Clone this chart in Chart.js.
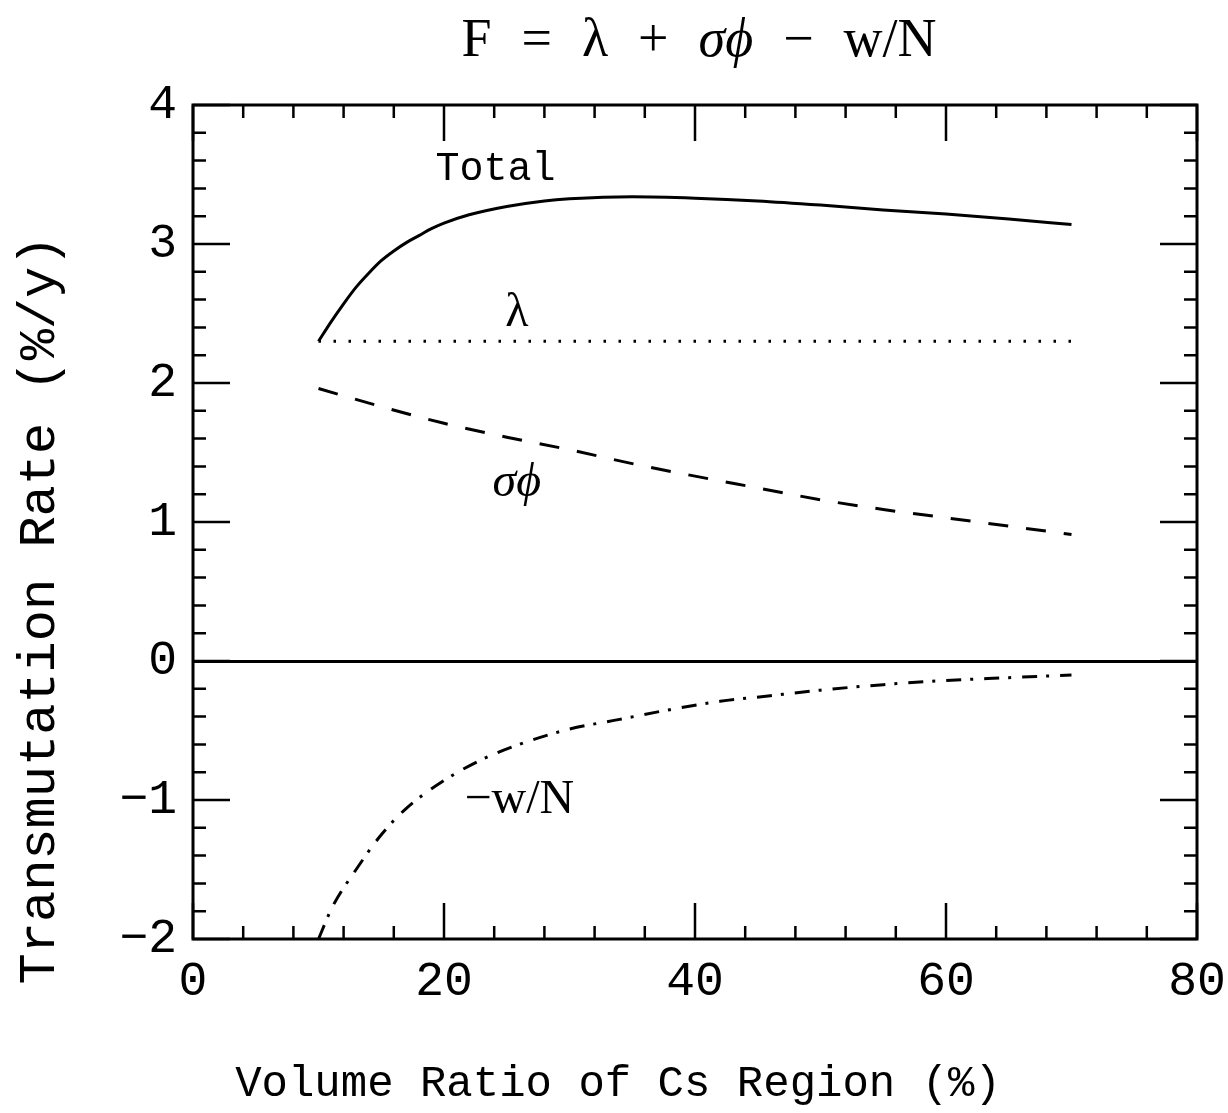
<!DOCTYPE html>
<html>
<head>
<meta charset="utf-8">
<script src="https://cdn.jsdelivr.net/npm/chart.js@4/dist/chart.umd.min.js"></script>
<style>
  html, body { margin: 0; padding: 0; background: #fff; }
  #wrap { width: 1228px; height: 1113px; }
</style>
</head>
<body>
<div id="wrap"><canvas id="c" width="1228" height="1113"></canvas></div>
<script>
// values
const totalX = [10, 11, 12, 13, 14, 15, 16, 17, 18, 19, 20, 22, 25, 28, 30, 35, 40, 45, 50, 55, 60, 65, 70];
const totalY = [2.30, 2.44, 2.57, 2.69, 2.79, 2.88, 2.95, 3.01, 3.06, 3.11, 3.15, 3.21, 3.27, 3.31, 3.325, 3.34, 3.33, 3.31, 3.28, 3.245, 3.215, 3.18, 3.14];

const lambdaX = [10, 70];
const lambdaY = [2.3, 2.3];

const sigphiX = [10, 15, 20, 25, 30, 35, 40, 45, 50, 55, 60, 65, 70];
const sigphiY = [1.96, 1.83, 1.71, 1.61, 1.52, 1.42, 1.33, 1.245, 1.16, 1.09, 1.03, 0.97, 0.91];

const wnX = [10, 11.1, 13, 15, 17, 20, 23, 26, 30, 34, 38, 42, 46, 50, 55, 60, 65, 70];
const wnY = [-2.0, -1.77, -1.50, -1.25, -1.06, -0.86, -0.71, -0.60, -0.49, -0.42, -0.35, -0.29, -0.25, -0.21, -0.17, -0.14, -0.12, -0.10];

const xTicks = [0, 20, 40, 60, 80];
const yTicks = [-2, -1, 0, 1, 2, 3, 4];

const pts = (xs, ys) => xs.map((x, i) => ({ x: x, y: ys[i] }));

const MONO = '"Liberation Mono", "DejaVu Sans Mono", monospace';
const SERIF = '"Liberation Serif", "DejaVu Serif", serif';

// frame, inward ticks on all four sides, titles and curve labels
const decor = {
  id: 'decor',
  afterDraw(chart) {
    const { ctx, chartArea: a, scales: { x, y } } = chart;
    ctx.save();
    ctx.strokeStyle = '#000';
    ctx.lineWidth = 3;
    ctx.strokeRect(a.left, a.top, a.right - a.left, a.bottom - a.top);

    ctx.lineWidth = 2.5;
    ctx.beginPath();
    for (let v = 0; v <= 80.001; v += 4) {
      const px = x.getPixelForValue(v);
      const len = Math.abs(v % 20) < 0.01 ? 36 : 13;
      ctx.moveTo(px, a.bottom); ctx.lineTo(px, a.bottom - len);
      ctx.moveTo(px, a.top); ctx.lineTo(px, a.top + len);
    }
    for (let i = 0; i <= 30; i++) {
      const v = -2 + i * 0.2;
      const py = y.getPixelForValue(v);
      const len = i % 5 === 0 ? 37 : 13;
      ctx.moveTo(a.left, py); ctx.lineTo(a.left + len, py);
      ctx.moveTo(a.right, py); ctx.lineTo(a.right - len, py);
    }
    ctx.stroke();

    ctx.fillStyle = '#000';
    ctx.textAlign = 'center';
    ctx.textBaseline = 'middle';

    // title, drawn token by token
    const tokens = [
      ['F', 'normal'], ['=', 'normal'], ['λ', 'normal'], ['+', 'normal'],
      ['σϕ', 'italic'], ['−', 'normal'], ['w/N', 'normal']
    ];
    const gap = 30;
    const widths = tokens.map(t => { ctx.font = t[1] + ' 54px ' + SERIF; return ctx.measureText(t[0]).width; });
    const total = widths.reduce((s, w) => s + w, 0) + gap * (tokens.length - 1);
    let cx = (a.left + a.right) / 2 + 4 - total / 2;
    ctx.textAlign = 'left';
    tokens.forEach((t, i) => {
      ctx.font = t[1] + ' 54px ' + SERIF;
      ctx.fillText(t[0], cx, 42);
      cx += widths[i] + gap;
    });
    ctx.textAlign = 'center';

    // axis titles
    ctx.font = '44px ' + MONO;
    ctx.fillText('Volume Ratio of Cs Region (%)', chart.width / 2 + 4, 1084);
    ctx.save();
    ctx.translate(40, 610);
    ctx.rotate(-Math.PI / 2);
    ctx.font = '52px ' + MONO;
    ctx.fillText('Transmutation Rate (%/y)', 0, 0);
    ctx.restore();

    // curve labels
    ctx.font = '40px ' + MONO;
    ctx.fillText('Total', x.getPixelForValue(24.1), y.getPixelForValue(3.54));
    ctx.font = '48px ' + SERIF;
    ctx.fillText('λ', x.getPixelForValue(25.8), y.getPixelForValue(2.5));
    ctx.font = 'italic 48px ' + SERIF;
    ctx.fillText('σϕ', x.getPixelForValue(25.8), y.getPixelForValue(1.28));
    ctx.font = '48px ' + SERIF;
    ctx.fillText('−w/N', x.getPixelForValue(26.0), y.getPixelForValue(-1.0));
    ctx.restore();
  }
};

new Chart(document.getElementById('c'), {
  type: 'scatter',
  data: {
    datasets: [
      { label: 'Total', data: pts(totalX, totalY), showLine: true, borderColor: '#000', borderWidth: 3,
        pointRadius: 0, cubicInterpolationMode: 'monotone' },
      { label: 'λ', data: pts(lambdaX, lambdaY), showLine: true, borderColor: '#000', borderWidth: 3,
        borderDash: [2.5, 12.5], pointRadius: 0 },
      { label: 'σϕ', data: pts(sigphiX, sigphiY), showLine: true, borderColor: '#000', borderWidth: 3,
        borderDash: [20, 18], pointRadius: 0, cubicInterpolationMode: 'monotone' },
      { label: '−w/N', data: pts(wnX, wnY), showLine: true, borderColor: '#000', borderWidth: 3,
        borderDash: [15, 9, 3, 11], pointRadius: 0, cubicInterpolationMode: 'monotone' }
    ]
  },
  options: {
    responsive: false,
    animation: false,
    layout: { padding: { top: 105, right: 31, left: 0, bottom: 0 } },
    plugins: { legend: { display: false }, tooltip: { enabled: false }, title: { display: false } },
    scales: {
      x: {
        type: 'linear', min: 0, max: 80,
        afterBuildTicks: s => { s.ticks = xTicks.map(v => ({ value: v })); },
        afterFit: s => { s.height = 174; s.paddingLeft = 0; s.paddingRight = 0; },
        border: { display: false },
        grid: { display: false, drawTicks: false },
        ticks: { color: '#000', font: { family: MONO, size: 48 }, padding: 14, maxRotation: 0, autoSkip: false }
      },
      y: {
        type: 'linear', min: -2, max: 4,
        afterBuildTicks: s => { s.ticks = yTicks.map(v => ({ value: v })); },
        afterFit: s => { s.width = 193; s.paddingTop = 0; s.paddingBottom = 0; },
        border: { display: false },
        grid: {
          drawTicks: false,
          lineWidth: 3,
          color: c => (c.tick && c.tick.value === 0 ? '#000' : 'rgba(0,0,0,0)')
        },
        ticks: { color: '#000', font: { family: MONO, size: 48 }, padding: 16,
          callback: v => String(v).replace('-', '−') }
      }
    }
  },
  plugins: [decor]
});
</script>
</body>
</html>
